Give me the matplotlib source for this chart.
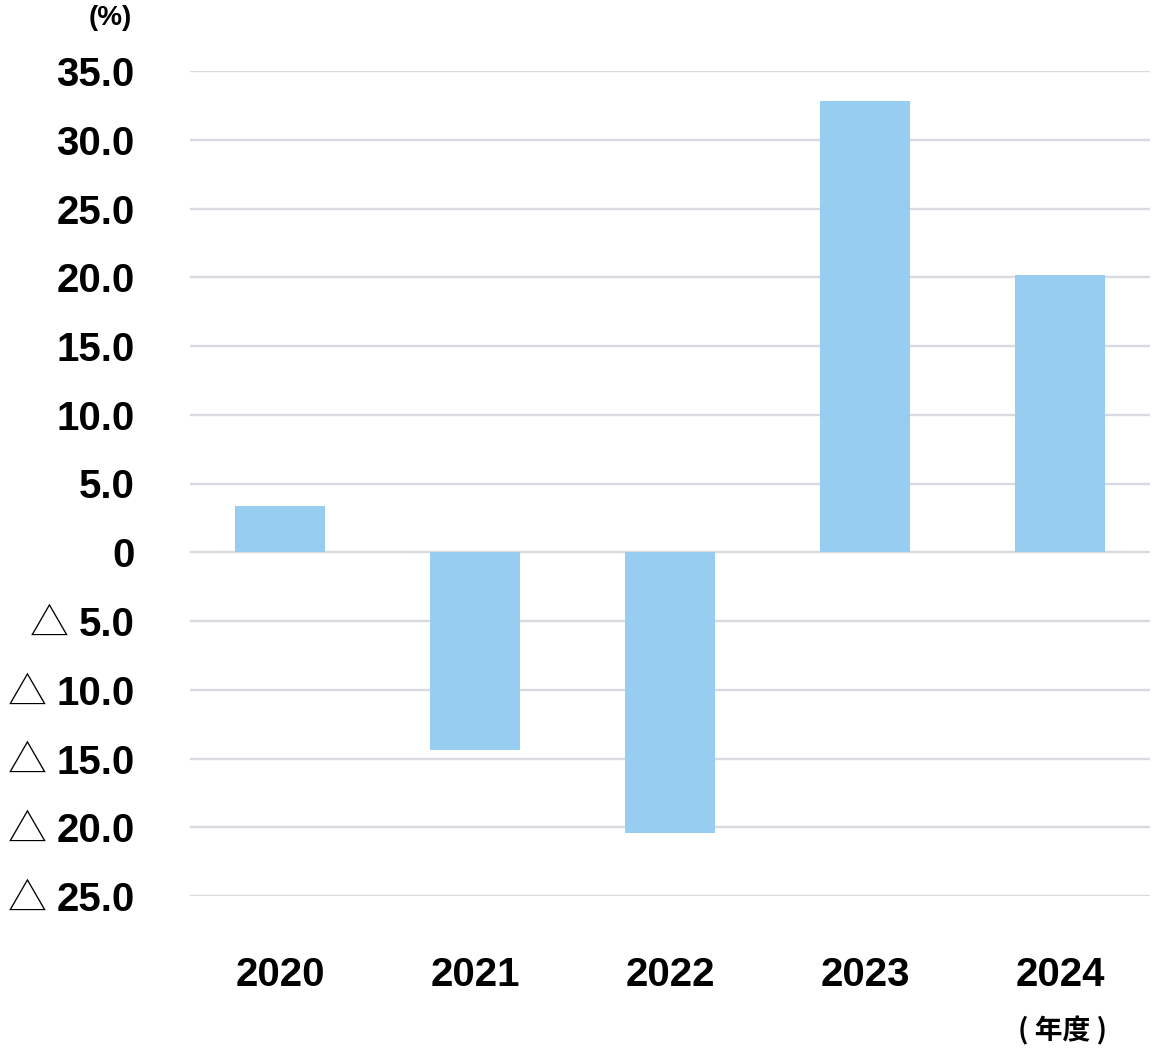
import matplotlib
matplotlib.use("Agg")
import matplotlib.pyplot as plt
import numpy as np

# data
years = ["2020", "2021", "2022", "2023", "2024"]
values = [3.4, -14.4, -20.4, 32.8, 20.2]
y_ticks = [35, 30, 25, 20, 15, 10, 5, 0, -5, -10, -15, -20, -25]
y_labels = ["35.0", "30.0", "25.0", "20.0", "15.0", "10.0", "5.0", "0",
            "5.0", "10.0", "15.0", "20.0", "25.0"]

plt.rcParams['font.family'] = ['Liberation Sans', 'Noto Sans CJK JP', 'DejaVu Sans']

fig = plt.figure(figsize=(11.53, 10.51), dpi=100)
ax = fig.add_axes([190 / 1153, 1 - 896 / 1051, 960 / 1153, (896 - 71) / 1051])

x = np.arange(len(years))
ax.bar(x, values, width=90 / 195, color="#98cdf2", zorder=3)

ax.set_xlim(-90 / 195, len(years) - 1 + 90 / 195)
ax.set_ylim(-25, 35)
ax.set_yticks(y_ticks)
ax.set_yticklabels(y_labels, fontsize=29, fontweight="bold")
ax.set_xticks(x)
ax.set_xticklabels(years, fontsize=29, fontweight="bold")
ax.tick_params(axis="y", length=0, pad=40)
ax.tick_params(axis="x", length=0, pad=43)

ax.grid(axis="y", color="#d9d9e2", linewidth=1.7, zorder=0)
ax.grid(axis="x", visible=False)
for s in ax.spines.values():
    s.set_visible(False)

# triangles (minus marks) in front of the negative labels
fig.canvas.draw()
for tick, lab in zip(y_ticks, ax.get_yticklabels()):
    if tick < 0:
        ax.annotate("△", xy=(0, 0.5), xycoords=lab, xytext=(-7, 0),
                    textcoords="offset points", ha="right", va="center",
                    fontsize=28, family=["Noto Sans CJK JP", "DejaVu Sans"],
                    fontweight="light")

fig.text(110 / 1153, 1 - 18 / 1051, "(%)", fontsize=20, fontweight="bold",
         ha="center", va="center")
fig.text(1063 / 1153, 1 - 1031 / 1051, "( 年度 )", fontsize=20, fontweight="bold",
         ha="center", va="center", family=["Noto Sans CJK JP", "DejaVu Sans"])

fig.savefig("out.png", dpi=100)
